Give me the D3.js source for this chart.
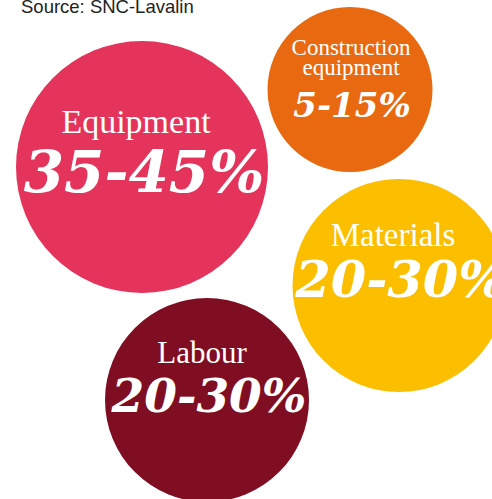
<!DOCTYPE html>
<html>
<head>
<meta charset="utf-8">
<script src="https://cdn.jsdelivr.net/npm/d3@7"></script>
<style>
  html, body { margin: 0; padding: 0; background: #fff; }
  svg { display: block; }
</style>
</head>
<body>
<div id="chart"></div>
<script>
// Share of project cost by component
const categories = ["Equipment", "Construction equipment", "Materials", "Labour"];
const rangeLow  = [35, 5, 20, 20];
const rangeHigh = [45, 15, 30, 30];
const sourceNote = "Source: SNC-Lavalin";

// Bubble placement and styling (layout only)
const colours    = ["#E5345B", "#E8690F", "#FCBF00", "#800E22"];
const centres    = [[142, 167], [350, 89.5], [399, 285.5], [207, 400]];
const radii      = [126, 82.5, 106.5, 102];
const labelSize  = [34, 23, 33, 31];
const valueSize  = [58, 34, 51, 47];
const labelShift = [-6, 1, -6, -5];       // horizontal nudge of the label
const labelBase  = [133, 75, 246, 363];   // baseline of the last label line
const valueBase  = [192, 117, 297, 412];
const labelLines = [["Equipment"], ["Construction", "equipment"], ["Materials"], ["Labour"]];

const width = 492, height = 499;

const svg = d3.select("#chart").append("svg")
  .attr("width", width)
  .attr("height", height);

const data = categories.map((c, i) => ({
  name: c,
  low: rangeLow[i],
  high: rangeHigh[i],
  i
}));

const g = svg.selectAll("g.bubble")
  .data(data)
  .join("g")
  .attr("class", "bubble");

g.append("circle")
  .attr("cx", d => centres[d.i][0])
  .attr("cy", d => centres[d.i][1])
  .attr("r", d => radii[d.i])
  .attr("fill", d => colours[d.i]);

// Category label (may span two lines)
g.each(function(d) {
  const lines = labelLines[d.i];
  const size = labelSize[d.i];
  const lh = size * 0.87;
  const t = d3.select(this).append("text")
    .attr("text-anchor", "middle")
    .attr("font-family", "'Liberation Serif', 'Times New Roman', serif")
    .attr("font-size", size)
    .attr("fill", "#fff");
  lines.forEach((ln, k) => {
    t.append("tspan")
      .attr("x", centres[d.i][0] + labelShift[d.i])
      .attr("y", labelBase[d.i] - (lines.length - 1 - k) * lh)
      .text(ln);
  });
});

// Range value
g.append("text")
  .attr("x", d => centres[d.i][0] + 2)
  .attr("y", d => valueBase[d.i])
  .attr("text-anchor", "middle")
  .attr("font-family", "'DejaVu Serif', serif")
  .attr("font-weight", "bold")
  .attr("font-style", "italic")
  .attr("font-size", d => valueSize[d.i])
  .attr("fill", "#fff")
  .text(d => `${d.low}-${d.high}%`);

svg.append("text")
  .attr("x", 21)
  .attr("y", 13)
  .attr("font-family", "'Liberation Sans', Arial, sans-serif")
  .attr("font-size", 18.5)
  .attr("fill", "#222")
  .text(sourceNote);
</script>
</body>
</html>
